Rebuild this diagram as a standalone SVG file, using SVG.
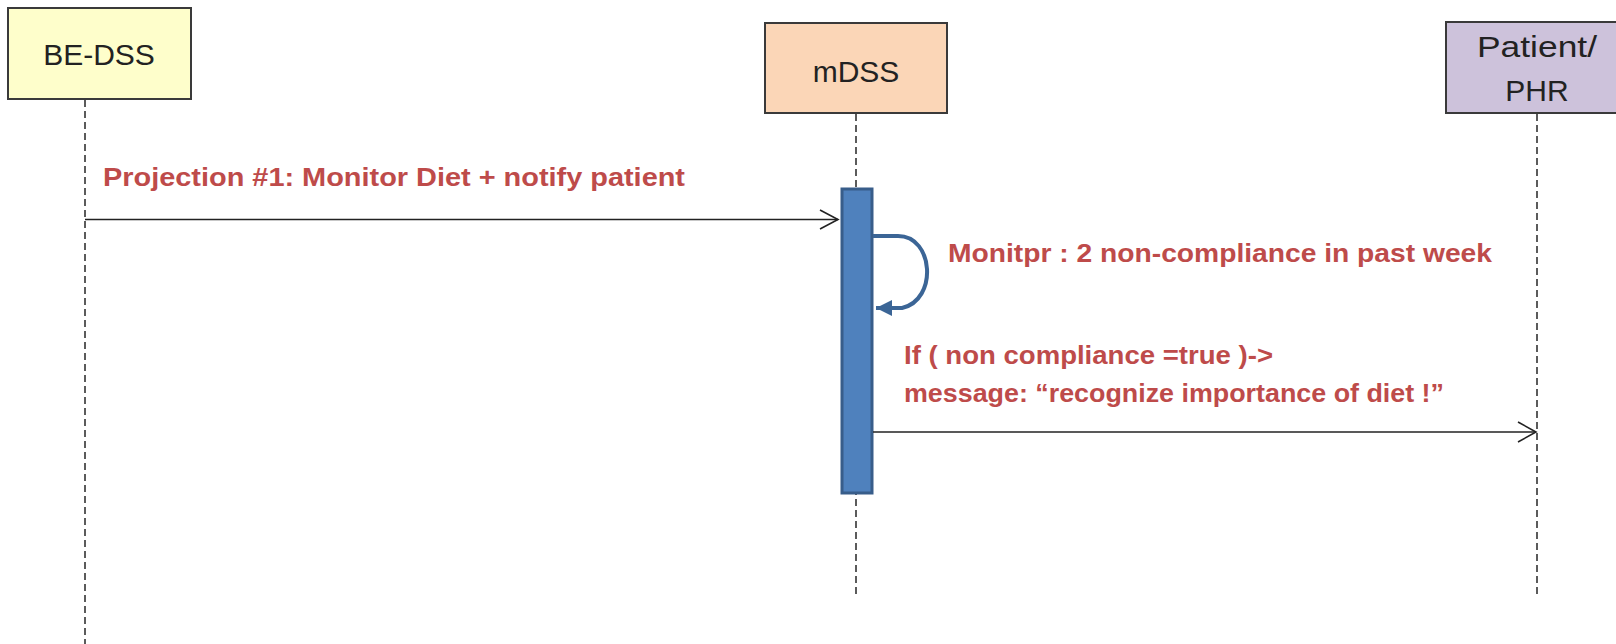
<svg xmlns="http://www.w3.org/2000/svg" width="1616" height="644" viewBox="0 0 1616 644">
<style>
.box{stroke:#3a3a3a;stroke-width:2}
.lbl{font-family:"Liberation Sans",Arial,sans-serif;font-size:30px;fill:#222;text-anchor:middle}
.life{stroke:#333;stroke-width:1.6;stroke-dasharray:7,4;fill:none}
.msg{stroke:#222;stroke-width:1.6;fill:none}
.head{stroke:#222;stroke-width:1.6;fill:none}
.note{font-family:"Liberation Sans",Arial,sans-serif;font-size:25px;font-weight:bold;fill:#BE4B4A}
</style>
<defs>
<marker id="loopHead" viewBox="0 0 10 10" refX="10" refY="5" markerWidth="4" markerHeight="4" orient="auto">
<path d="M0,0 L10,5 L0,10 z" fill="#3B6596"/>
</marker>
</defs>
<rect width="1616" height="644" fill="#ffffff"/>
<g id="be-dss">
<rect class="box" x="8" y="8" width="183" height="91" fill="#FEFECB"/>
<text class="lbl" x="99" y="65">BE-DSS</text>
</g>
<g id="mdss">
<rect class="box" x="765" y="23" width="182" height="90" fill="#FBD6B7"/>
<text class="lbl" x="856" y="82">mDSS</text>
</g>
<g id="patient-phr">
<rect class="box" x="1446" y="22" width="180" height="91" fill="#CDC2DB"/>
<text class="lbl" x="1537" y="57" textLength="120" lengthAdjust="spacingAndGlyphs">Patient/</text>
<text class="lbl" x="1537" y="101">PHR</text>
</g>
<g id="lifelines">
<line class="life" x1="85" y1="100" x2="85" y2="644"/>
<line class="life" x1="856" y1="114" x2="856" y2="598"/>
<line class="life" x1="1537" y1="114" x2="1537" y2="598"/>
</g>
<g id="activation">
<rect x="842" y="189" width="30" height="304" fill="#4F81BD" stroke="#385D8A" stroke-width="3"/>
</g>
<g id="connectors">
<line class="msg" x1="85" y1="219.5" x2="838" y2="219.5"/>
<path class="head" d="M820,210 L838,219.5 L820,229"/>
<line class="msg" x1="873" y1="432" x2="1536" y2="432"/>
<path class="head" d="M1518,422 L1536,432 L1518,442"/>
<path d="M873,236 H898 C934,236 938,300 902,308 H876" fill="none" stroke="#3B6596" stroke-width="4" marker-end="url(#loopHead)"/>
</g>
<g id="labels">
<text class="note" x="103" y="186" textLength="582" lengthAdjust="spacingAndGlyphs">Projection #1:  Monitor Diet + notify patient</text>
<text class="note" x="948" y="262" textLength="544" lengthAdjust="spacingAndGlyphs">Monitpr : 2 non-compliance in past week</text>
<text class="note" x="904" y="364" textLength="369" lengthAdjust="spacingAndGlyphs">If ( non compliance =true )-&gt;</text>
<text class="note" x="904" y="402" textLength="540" lengthAdjust="spacingAndGlyphs">message: “recognize importance of diet !”</text>
</g>
</svg>
